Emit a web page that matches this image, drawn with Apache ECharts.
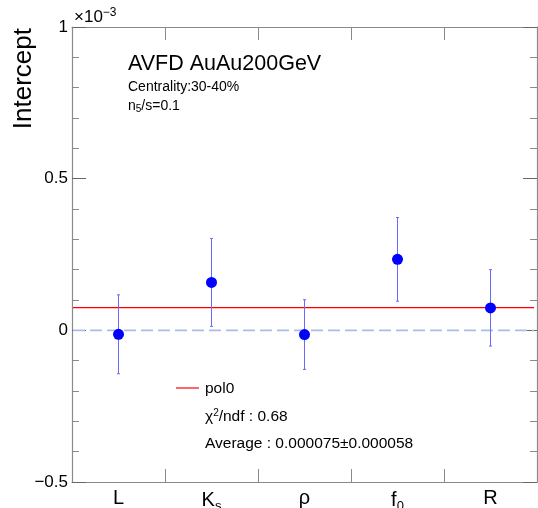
<!DOCTYPE html>
<html>
<head>
<meta charset="UTF-8">
<script src="https://cdn.jsdelivr.net/npm/echarts@6/dist/echarts.min.js"></script>
<style>
  html, body { margin: 0; padding: 0; background: #fff; }
  #chart { width: 538px; height: 508px; }
</style>
</head>
<body>
<div id="chart"></div>
<script>
  // values in units of 1e-3
  const categories = ['L', 'Ks', 'rho', 'f0', 'R'];
  const catLabels = ['{n|L}', '{n|K}{s|s}', '{n|ρ}', '{n|f}{s|0}', '{n|R}'];
  const intercepts = [-0.013, 0.158, -0.014, 0.234, 0.074];
  const errors = [0.130, 0.145, 0.115, 0.138, 0.126];
  const fitAverage = 0.075;
  const yTicks = { min: -0.5, max: 1, step: 0.5 };

  const font = '"Liberation Sans", Arial, Helvetica, sans-serif';
  const frameColor = '#8a8a8a';
  const chart = echarts.init(document.getElementById('chart'));

  const errData = categories.map((c, i) => [i, intercepts[i], errors[i]]);
  const pointData = categories.map((c, i) => [i, intercepts[i]]);
  // horizontal reference lines: [y value, kind]
  const hLines = [[0, 0], [fitAverage, 1]];
  const hStyles = [
    { stroke: '#a9bde6', lineWidth: 1.6, lineDash: [12, 5] },
    { stroke: '#ff0000', lineWidth: 1.2 }
  ];

  const labelMap = {};
  categories.forEach((c, i) => { labelMap[c] = catLabels[i]; });

  const axisCommon = {
    axisLine: { show: true, onZero: false, lineStyle: { color: frameColor, width: 1.2 } },
    splitLine: { show: false }
  };

  chart.setOption({
    animation: false,
    grid: { left: 72, top: 27, right: 1, bottom: 26, containLabel: false, outerBoundsMode: 'none' },
    xAxis: [
      Object.assign({
        type: 'category', data: categories, boundaryGap: true, position: 'bottom',
        axisTick: { show: true, inside: true, length: 13, interval: 0, lineStyle: { color: frameColor } },
        axisLabel: {
          interval: 0, margin: 6, color: '#000', fontFamily: font,
          formatter: v => labelMap[v],
          rich: {
            n: { fontSize: 20, fontFamily: font, color: '#000' },
            s: { fontSize: 13, fontFamily: font, color: '#000', padding: [12, 0, 0, 0] }
          }
        }
      }, axisCommon),
      Object.assign({
        type: 'category', data: categories, boundaryGap: true, position: 'top',
        axisTick: { show: true, inside: true, length: 13, interval: 0, lineStyle: { color: frameColor } },
        axisLabel: { show: false }
      }, axisCommon)
    ],
    yAxis: [
      Object.assign({
        type: 'value', min: yTicks.min, max: yTicks.max, interval: yTicks.step, position: 'left',
        axisTick: { show: true, inside: true, length: 14, lineStyle: { color: '#666' } },
        minorTick: { show: true, splitNumber: 5, length: 7, lineStyle: { color: frameColor } },
        axisLabel: {
          margin: 4, fontSize: 17, color: '#000', fontFamily: font,
          formatter: v => v === 0 ? '0' : (v < 0 ? '\u2212' + String(-v) : String(v))
        }
      }, axisCommon),
      Object.assign({
        type: 'value', min: yTicks.min, max: yTicks.max, interval: yTicks.step, position: 'right',
        axisTick: { show: true, inside: true, length: 14, lineStyle: { color: '#666' } },
        minorTick: { show: true, splitNumber: 5, length: 7, lineStyle: { color: frameColor } },
        axisLabel: { show: false }
      }, axisCommon)
    ],
    series: [
      {
        type: 'custom', data: hLines, silent: true, z: 1,
        encode: { x: -1, y: 0 },
        renderItem: (params, api) => {
          const cs = params.coordSys;
          const y = api.coord([0, api.value(0)])[1];
          return {
            type: 'line',
            shape: { x1: cs.x + 1, y1: y, x2: cs.x + cs.width - 3, y2: y },
            style: Object.assign({ fill: null }, hStyles[api.value(1)])
          };
        }
      },
      {
        type: 'custom', data: errData, silent: true, z: 2,
        renderItem: (params, api) => {
          const x = api.value(0), v = api.value(1), e = api.value(2);
          const top = api.coord([x, v + e]);
          const bot = api.coord([x, v - e]);
          const st = { stroke: '#6a6aff', lineWidth: 1 };
          return {
            type: 'group',
            children: [
              { type: 'line', shape: { x1: top[0], y1: top[1], x2: bot[0], y2: bot[1] }, style: st },
              { type: 'line', shape: { x1: top[0] - 1.5, y1: top[1], x2: top[0] + 1.5, y2: top[1] }, style: st },
              { type: 'line', shape: { x1: bot[0] - 1.5, y1: bot[1], x2: bot[0] + 1.5, y2: bot[1] }, style: st }
            ]
          };
        }
      },
      {
        type: 'scatter', data: pointData, symbol: 'circle', symbolSize: 11, z: 3,
        itemStyle: { color: '#0000ff', opacity: 1 }, silent: true
      }
    ],
    graphic: [
      {
        type: 'text', x: 24, y: 28, rotation: Math.PI / 2,
        style: { text: 'Intercept', font: '26px ' + font, fill: '#000', align: 'right', verticalAlign: 'middle' }
      },
      {
        type: 'text', x: 74, y: 28,
        style: {
          text: '{a|×10}{b|\u22123}', verticalAlign: 'bottom',
          rich: {
            a: { fontSize: 17, fontFamily: font, fill: '#000' },
            b: { fontSize: 12, fontFamily: font, fill: '#000', padding: [0, 0, 9, 0] }
          }
        }
      },
      {
        type: 'text', x: 128, y: 64,
        style: { text: 'AVFD AuAu200GeV', font: '21.5px ' + font, fill: '#000', verticalAlign: 'middle' }
      },
      {
        type: 'text', x: 128, y: 87,
        style: { text: 'Centrality:30-40%', font: '14px ' + font, fill: '#000', verticalAlign: 'middle' }
      },
      {
        type: 'text', x: 128, y: 106,
        style: {
          text: '{a|n}{b|5}{a|/s=0.1}', verticalAlign: 'middle',
          rich: {
            a: { fontSize: 14, fontFamily: font, fill: '#000' },
            b: { fontSize: 10, fontFamily: font, fill: '#000', padding: [7, 0, 0, 0] }
          }
        }
      },
      {
        type: 'line', shape: { x1: 176, y1: 388, x2: 199, y2: 388 },
        style: { stroke: '#ff0000', lineWidth: 1.2 }
      },
      {
        type: 'text', x: 205, y: 389,
        style: { text: 'pol0', font: '15.5px ' + font, fill: '#000', verticalAlign: 'middle' }
      },
      {
        type: 'text', x: 205, y: 417,
        style: {
          text: '{a|χ}{b|2}{a|/ndf : 0.68}', verticalAlign: 'middle',
          rich: {
            a: { fontSize: 15.5, fontFamily: font, fill: '#000' },
            b: { fontSize: 10, fontFamily: font, fill: '#000', padding: [0, 0, 7, 0] }
          }
        }
      },
      {
        type: 'text', x: 205, y: 444,
        style: { text: 'Average : 0.000075±0.000058', font: '15.5px ' + font, fill: '#000', verticalAlign: 'middle' }
      }
    ]
  });
</script>
</body>
</html>
